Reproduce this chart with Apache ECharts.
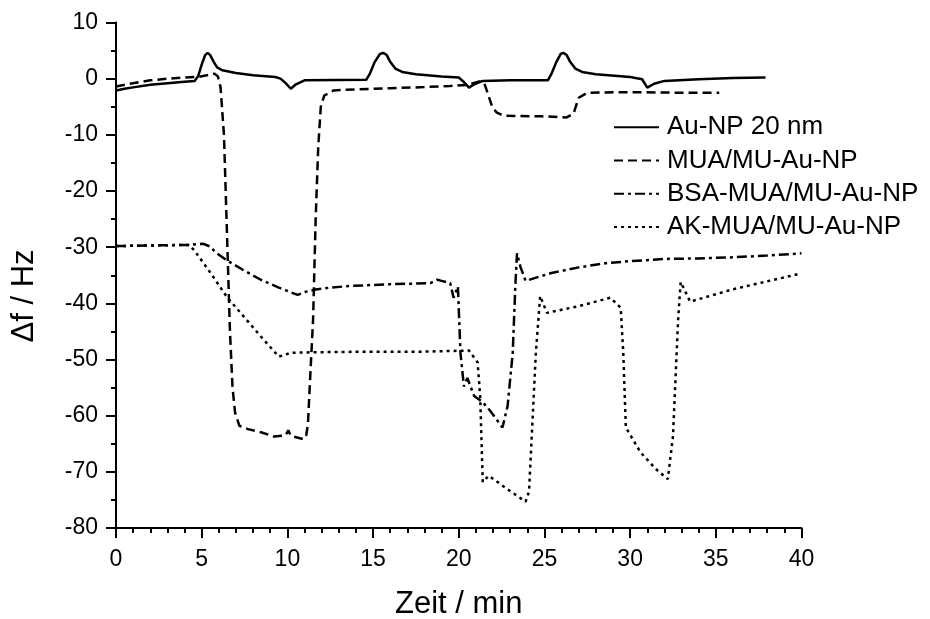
<!DOCTYPE html>
<html>
<head>
<meta charset="utf-8">
<script src="https://cdn.jsdelivr.net/npm/echarts@6/dist/echarts.min.js"></script>
<style>
html,body{margin:0;padding:0;background:#fff;}
#chart{width:930px;height:619px;}
</style>
</head>
<body>
<div id="chart"></div>
<script>
// Series names
const seriesNames = ['Au-NP 20 nm', 'MUA/MU-Au-NP', 'BSA-MUA/MU-Au-NP', 'AK-MUA/MU-Au-NP'];

// Au-NP 20 nm  [Zeit (min), Δf (Hz)]
const auNP = [[0,-2.1],[0.5,-1.8],[1,-1.55],[2,-1.1],[3,-0.8],[4,-0.55],[4.6,-0.4],[4.8,0.5],[5.0,2.5],[5.2,4.2],[5.35,4.6],[5.5,4.2],[5.7,3.0],[5.9,2.0],[6.2,1.5],[7,1.0],[8,0.6],[9.3,0.3],[9.6,0],[9.9,-0.8],[10.2,-1.8],[10.5,-1.0],[11,-0.3],[14.6,-0.2],[14.8,0.8],[15.1,3.0],[15.4,4.4],[15.6,4.6],[15.8,4.2],[16.0,3.0],[16.3,1.8],[16.7,1.2],[17.5,0.8],[19,0.4],[20,0.2],[20.3,-0.6],[20.6,-1.6],[20.9,-1.0],[21.4,-0.4],[23,-0.3],[25.2,-0.3],[25.4,0.8],[25.7,3.0],[25.95,4.4],[26.1,4.6],[26.3,4.2],[26.5,3.0],[26.8,1.8],[27.2,1.2],[28,0.8],[30,0.3],[30.7,-0.1],[31,-1.6],[31.4,-0.9],[32,-0.4],[34,-0.1],[36,0.1],[37.9,0.2]];

// MUA/MU-Au-NP
const muaNP = [[0,-1.4],[1,-0.8],[2,-0.3],[3,0],[4,0.2],[4.75,0.3],[5.3,0.6],[5.75,0.9],[5.95,0.4],[6.1,-1.5],[6.3,-10],[6.45,-25],[6.65,-45],[6.8,-55],[6.95,-59.5],[7.2,-61.8],[7.7,-62.4],[8.5,-63.0],[9.2,-63.7],[9.9,-63.5],[10.05,-62.6],[10.2,-63.6],[10.95,-64.2],[11.1,-63.5],[11.2,-61.5],[11.35,-52],[11.5,-42.9],[11.65,-25],[11.8,-12.2],[11.95,-5],[12.15,-3.0],[12.7,-2.1],[14,-1.9],[16,-1.7],[18,-1.5],[19.5,-1.3],[20.5,-1.1],[21.2,-0.5],[21.5,-0.9],[21.7,-2.7],[21.95,-5.0],[22.2,-6.0],[22.6,-6.6],[24.8,-6.7],[26.3,-6.9],[26.7,-6.2],[27.0,-3.4],[27.5,-2.5],[30,-2.4],[33,-2.5],[35.2,-2.5]];

// BSA-MUA/MU-Au-NP
const bsaNP = [[0,-29.8],[2,-29.7],[4.25,-29.6],[5.1,-29.4],[5.5,-29.9],[5.8,-30.9],[6.5,-32.4],[7.5,-34.2],[8.45,-35.8],[9.5,-37.2],[10.6,-38.5],[11.0,-38.0],[11.55,-37.6],[12.5,-37.2],[13.7,-36.9],[16,-36.6],[18.35,-36.4],[18.75,-35.8],[19.0,-36.0],[19.5,-36.4],[19.7,-39],[19.95,-37],[20.1,-48.8],[20.3,-54.8],[20.5,-53.3],[20.9,-56.5],[21.4,-57.6],[21.85,-59.2],[22.55,-62.1],[22.85,-58.3],[23.15,-48.8],[23.3,-37],[23.4,-31.1],[23.6,-33.5],[23.9,-36],[25.4,-34.6],[27,-33.6],[28.7,-32.8],[30,-32.5],[32,-32.1],[34,-32.0],[36,-31.8],[38,-31.5],[40,-31.1]];

// AK-MUA/MU-Au-NP
const akNP = [[0,-29.8],[2,-29.7],[4.25,-29.6],[4.55,-30.5],[5.5,-34.5],[6.5,-39],[7.5,-42.5],[8.45,-45.9],[9.5,-49.5],[10.2,-48.8],[11.75,-48.7],[15,-48.6],[18,-48.6],[20.6,-48.4],[21.1,-50.5],[21.25,-56.5],[21.4,-71.8],[21.75,-70.7],[22.8,-73],[23.9,-75.3],[24.1,-73.5],[24.5,-48.8],[24.75,-38.7],[25.15,-41.7],[27,-40.5],[28.85,-39],[29.45,-40.8],[29.6,-48.8],[29.75,-62.1],[30.6,-66.5],[31.5,-69.5],[32.2,-71.3],[32.5,-63.7],[32.8,-42.9],[32.95,-36.2],[33.5,-39.7],[36,-37.5],[39.8,-34.8]];

const xTitle = 'Zeit / min';
const yTitle = 'Δf / Hz';

const FONT = 'Liberation Sans, Arial, Helvetica, sans-serif';
const chart = echarts.init(document.getElementById('chart'));

function mk(name, data, type) {
  return {
    name: name, type: 'line', data: data, symbol: 'none', showSymbol: false,
    animation: false, smooth: false,
    lineStyle: { color: '#000', width: 2.5, type: type },
    itemStyle: { color: '#000' }
  };
}

chart.setOption({
  animation: false,
  backgroundColor: '#fff',
  grid: { left: 116, right: 128.5, top: 22.5, bottom: 91, containLabel: false, outerBoundsMode: 'none' },
  xAxis: {
    type: 'value', min: 0, max: 40, interval: 5,
    axisLine: { show: true, onZero: false, lineStyle: { color: '#000', width: 2 } },
    axisTick: { show: true, inside: false, length: 10, lineStyle: { color: '#000', width: 2 } },
    minorTick: { show: true, splitNumber: 5, length: 5, lineStyle: { color: '#000', width: 2 } },
    splitLine: { show: false },
    axisLabel: { color: '#000', fontSize: 23, fontFamily: FONT, margin: 20 },
    name: xTitle, nameLocation: 'middle', nameGap: 61,
    nameTextStyle: { color: '#000', fontSize: 31, fontFamily: FONT }
  },
  yAxis: {
    type: 'value', min: -80, max: 10, interval: 10,
    axisLine: { show: true, onZero: false, lineStyle: { color: '#000', width: 2 } },
    axisTick: { show: true, inside: false, length: 10, lineStyle: { color: '#000', width: 2 } },
    minorTick: { show: true, splitNumber: 2, length: 5, lineStyle: { color: '#000', width: 2 } },
    splitLine: { show: false },
    axisLabel: { color: '#000', fontSize: 23, fontFamily: FONT, margin: 18 }
  },
  graphic: [{
    type: 'text', x: 24, y: 296, rotation: Math.PI / 2,
    style: { text: yTitle, fill: '#000', font: '31px ' + FONT, align: 'center', verticalAlign: 'middle' }
  }],
  legend: {
    orient: 'vertical', left: 613, top: 113, padding: 0,
    itemWidth: 45, itemHeight: 14, itemGap: 5,
    itemStyle: { opacity: 0 },
    textStyle: { color: '#000', fontSize: 26, fontFamily: FONT, lineHeight: 28.3, padding: [0,0,0,3] },
    data: seriesNames
  },
  series: [
    mk(seriesNames[0], auNP, 'solid'),
    mk(seriesNames[1], muaNP, [9, 5]),
    mk(seriesNames[2], bsaNP, [10, 4, 3, 4]),
    mk(seriesNames[3], akNP, [3, 4])
  ]
});
</script>
</body>
</html>
